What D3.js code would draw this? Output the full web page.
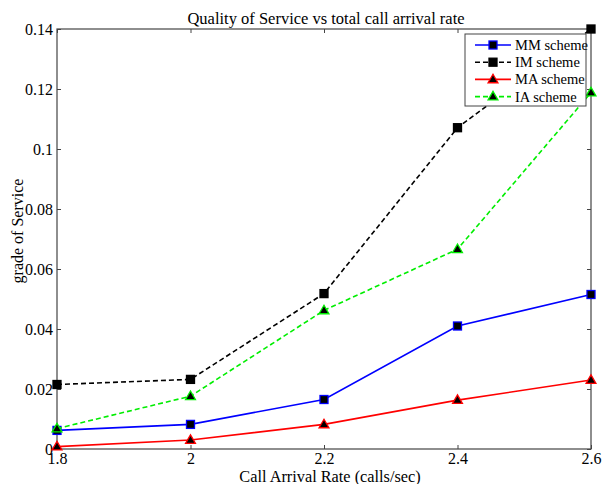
<!DOCTYPE html>
<html lang="en">
<head>
<meta charset="UTF-8">
<title>Quality of Service vs total call arrival rate</title>
<script src="https://d3js.org/d3.v7.min.js"></script>
<style>
    body { margin: 0; background: #fff; }
    text { font-family: "Liberation Serif", "Times New Roman", serif; fill: #000; }
</style>
</head>
<body>
<svg id="chart" width="602" height="484"></svg>
<script>
    // call arrival rate (calls/sec)
    const rates = [1.8, 2.0, 2.2, 2.4, 2.6];
    const mmScheme = [0.0062, 0.0082, 0.0165, 0.0410, 0.0515];
    const imScheme = [0.0215, 0.0232, 0.0518, 0.1071, 0.1400];
    const maScheme = [0.0008, 0.0030, 0.0082, 0.0163, 0.0230];
    const iaScheme = [0.0068, 0.0176, 0.0462, 0.0666, 0.1188];
    const xTicks = [1.8, 2, 2.2, 2.4, 2.6];
    const yTicks = [0, 0.02, 0.04, 0.06, 0.08, 0.1, 0.12, 0.14];

    const series = [
        {name: "MM scheme", values: mmScheme, color: "#0000ff", dash: null, marker: "square"},
        {name: "IM scheme", values: imScheme, color: "#000000", dash: "5,3", marker: "square"},
        {name: "MA scheme", values: maScheme, color: "#ff0000", dash: null, marker: "triangle"},
        {name: "IA scheme", values: iaScheme, color: "#00ee00", dash: "5,3", marker: "triangle"}
    ];

    const svg = d3.select("#chart");
    const plotL = 57, plotR = 591, plotT = 29, plotB = 449;

    const x = d3.scaleLinear().domain([1.8, 2.6]).range([plotL, plotR]);
    const y = d3.scaleLinear().domain([0, 0.14]).range([plotB, plotT]);

    const axisColor = "#444";

    // box
    svg.append("rect")
        .attr("x", plotL).attr("y", plotT)
        .attr("width", plotR - plotL).attr("height", plotB - plotT)
        .attr("fill", "none").attr("stroke", axisColor).attr("stroke-width", 1.2);

    function styleAxis(g) {
        g.select(".domain").remove();
        g.selectAll("line").attr("stroke", axisColor).attr("stroke-width", 1);
        g.selectAll("text")
            .style("font-family", "'Liberation Serif', 'Times New Roman', serif")
            .style("font-size", "16px").attr("fill", "#000");
    }

    // bottom & left axes with inward ticks
    svg.append("g").attr("transform", "translate(0," + plotB + ")")
        .call(d3.axisBottom(x).tickValues(xTicks).tickSize(-4).tickPadding(4).tickFormat(d3.format("")))
        .call(styleAxis);
    svg.append("g").attr("transform", "translate(" + plotL + ",0)")
        .call(d3.axisLeft(y).tickValues(yTicks).tickSize(-4).tickPadding(4).tickFormat(d3.format("")))
        .call(styleAxis);
    // mirrored ticks on top & right
    svg.append("g").attr("transform", "translate(0," + plotT + ")")
        .call(d3.axisTop(x).tickValues(xTicks).tickSize(-4).tickFormat(""))
        .call(styleAxis);
    svg.append("g").attr("transform", "translate(" + plotR + ",0)")
        .call(d3.axisRight(y).tickValues(yTicks).tickSize(-4).tickFormat(""))
        .call(styleAxis);

    const line = d3.line()
        .x(function (d, i) { return x(rates[i]); })
        .y(function (d) { return y(d); });

    function drawMarker(g, s, cx, cy) {
        if (s.marker === "square") {
            g.append("rect")
                .attr("x", cx - 4).attr("y", cy - 4)
                .attr("width", 8).attr("height", 8)
                .attr("fill", "#000").attr("stroke", s.color).attr("stroke-width", 1.3);
        } else {
            g.append("path")
                .attr("d", d3.symbol().type(d3.symbolTriangle).size(42)())
                .attr("transform", "translate(" + cx + "," + (cy + 0.5) + ")")
                .attr("fill", "#000").attr("stroke", s.color).attr("stroke-width", 1.3);
        }
    }

    series.forEach(function (s) {
        const g = svg.append("g");
        g.append("path")
            .datum(s.values)
            .attr("d", line)
            .attr("fill", "none")
            .attr("stroke", s.color)
            .attr("stroke-width", 1.6)
            .attr("stroke-dasharray", s.dash);
        s.values.forEach(function (v, i) {
            drawMarker(g, s, x(rates[i]), y(v));
        });
    });

    // legend
    const lg = svg.append("g");
    lg.append("rect")
        .attr("x", 465).attr("y", 34).attr("width", 121).attr("height", 72)
        .attr("fill", "#fff").attr("stroke", axisColor).attr("stroke-width", 1);
    series.forEach(function (s, i) {
        const ly = 45 + i * 17.2;
        lg.append("line")
            .attr("x1", 475).attr("x2", 511).attr("y1", ly).attr("y2", ly)
            .attr("stroke", s.color).attr("stroke-width", 1.6)
            .attr("stroke-dasharray", s.dash);
        drawMarker(lg, s, 493, ly);
        lg.append("text")
            .attr("x", 515).attr("y", ly + 5)
            .style("font-size", "14.5px")
            .text(s.name);
    });

    // titles
    svg.append("text")
        .attr("x", (plotL + plotR) / 2 + 2).attr("y", 24)
        .attr("text-anchor", "middle")
        .style("font-size", "16.5px")
        .text("Quality of Service vs total call arrival rate");
    svg.append("text")
        .attr("x", (plotL + plotR) / 2 + 6).attr("y", 481.5)
        .attr("text-anchor", "middle")
        .style("font-size", "16.3px")
        .text("Call Arrival Rate (calls/sec)");
    svg.append("text")
        .attr("transform", "translate(23,231) rotate(-90)")
        .attr("text-anchor", "middle")
        .style("font-size", "16px")
        .text("grade of Service");
</script>
</body>
</html>
